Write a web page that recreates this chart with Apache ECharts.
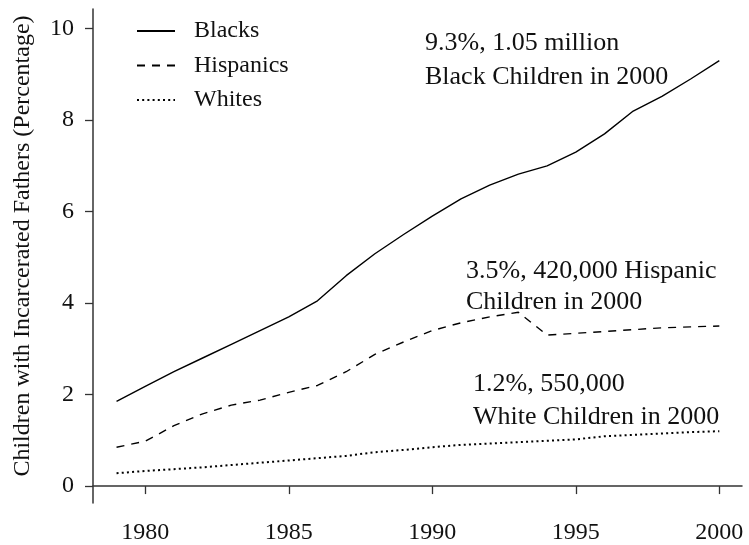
<!DOCTYPE html>
<html>
<head>
<meta charset="utf-8">
<script src="https://cdn.jsdelivr.net/npm/echarts@6/dist/echarts.min.js"></script>
<style>
  html, body { margin: 0; padding: 0; background: #fff; }
  #chart { width: 749px; height: 545px; }
</style>
</head>
<body>
<div id="chart"></div>
<script>
// Share of children with a father in prison, by race/ethnicity, 1979-2000
const years = [1979, 1980, 1981, 1982, 1983, 1984, 1985, 1986, 1987, 1988, 1989,
               1990, 1991, 1992, 1993, 1994, 1995, 1996, 1997, 1998, 1999, 2000];
const blacks = [1.85, 2.18, 2.50, 2.80, 3.10, 3.40, 3.70, 4.05, 4.60, 5.08, 5.50,
                5.90, 6.28, 6.58, 6.82, 7.00, 7.30, 7.70, 8.20, 8.52, 8.90, 9.30];
const hispanics = [0.85, 0.98, 1.32, 1.58, 1.77, 1.88, 2.05, 2.20, 2.50, 2.88, 3.15,
                   3.40, 3.57, 3.70, 3.80, 3.30, 3.34, 3.38, 3.42, 3.46, 3.48, 3.50];
const whites = [0.28, 0.33, 0.37, 0.41, 0.46, 0.51, 0.56, 0.61, 0.66, 0.74, 0.79,
                0.85, 0.90, 0.93, 0.96, 0.99, 1.02, 1.09, 1.12, 1.15, 1.18, 1.20];
const xTicks = [1980, 1985, 1990, 1995, 2000];
const yTicks = [0, 2, 4, 6, 8, 10];

const FONT = '"Liberation Serif", "DejaVu Serif", serif';
const INK = '#111';
const NOTE_FONT = '26px ' + FONT;

const pairs = (vals) => years.map((y, i) => [y, vals[i]]);

const chart = echarts.init(document.getElementById('chart'), null, { renderer: 'canvas' });

const axisCommon = {
  type: 'value',
  splitLine: { show: false },
  axisLine: { show: true, lineStyle: { color: '#333', width: 1.5 } },
  axisTick: { show: true, length: 8, inside: false, lineStyle: { color: '#333', width: 1.3 } },
};

const note = (text, x, y) => ({
  type: 'text', x: x, y: y,
  style: { text: text, font: NOTE_FONT, fill: INK, verticalAlign: 'middle' }
});

chart.setOption({
  animation: false,
  backgroundColor: '#fff',
  grid: { left: 93, right: 7, top: 9, bottom: 39, containLabel: false },
  legend: {
    orient: 'vertical',
    left: 136,
    top: 19,
    padding: 0,
    itemWidth: 38,
    itemHeight: 14,
    itemGap: 10.5,
    selectedMode: false,
    itemStyle: { opacity: 0, borderWidth: 0 },
    textStyle: { fontFamily: FONT, fontSize: 24, color: INK, lineHeight: 24, padding: [0, 0, 0, 14] },
    data: ['Blacks', 'Hispanics', 'Whites']
  },
  xAxis: Object.assign({}, axisCommon, {
    min: 1978.18,
    max: 2000.79,
    axisTick: Object.assign({}, axisCommon.axisTick, { customValues: xTicks }),
    axisLabel: {
      customValues: xTicks,
      margin: 18,
      fontFamily: FONT,
      fontSize: 24,
      color: INK,
      formatter: (v) => String(v)
    }
  }),
  yAxis: Object.assign({}, axisCommon, {
    min: -0.37,
    max: 10.43,
    name: 'Children with Incarcerated Fathers (Percentage)',
    nameLocation: 'middle',
    nameGap: 58,
    nameTextStyle: { fontFamily: FONT, fontSize: 24, color: INK, padding: [0, 0, 0, 20] },
    axisTick: Object.assign({}, axisCommon.axisTick, { customValues: yTicks }),
    axisLabel: {
      customValues: yTicks,
      margin: 19,
      fontFamily: FONT,
      fontSize: 24,
      color: INK,
      formatter: (v) => String(v)
    }
  }),
  series: [
    {
      name: 'Blacks', type: 'line', symbol: 'none', data: pairs(blacks),
      lineStyle: { color: '#000', width: 1.4, type: 'solid' },
      itemStyle: { color: '#000' }
    },
    {
      name: 'Hispanics', type: 'line', symbol: 'none', data: pairs(hispanics),
      lineStyle: { color: '#000', width: 1.4, type: [8, 7] },
      itemStyle: { color: '#000' }
    },
    {
      name: 'Whites', type: 'line', symbol: 'none', data: pairs(whites),
      lineStyle: { color: '#000', width: 2, type: [2, 3.2] },
      itemStyle: { color: '#000' }
    }
  ],
  graphic: [
    note('9.3%, 1.05 million', 425, 43),
    note('Black Children in 2000', 425, 77),
    note('3.5%, 420,000 Hispanic', 466, 271),
    note('Children in 2000', 466, 302),
    note('1.2%, 550,000', 473, 384),
    note('White Children in 2000', 473, 417)
  ]
});
</script>
</body>
</html>
